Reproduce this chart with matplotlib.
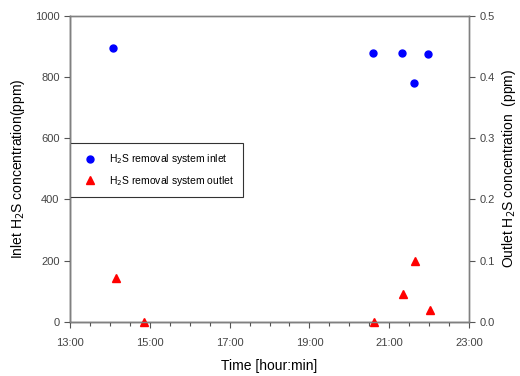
import matplotlib
matplotlib.use("Agg")
import matplotlib.pyplot as plt
from matplotlib.ticker import MultipleLocator, FuncFormatter

# ========================================
# DATA
# ========================================
inlet_times = ["14:04", "20:35", "21:19", "21:37", "21:59"]
inlet_ppm = [894, 878, 880, 782, 876]

outlet_times = ["14:09", "14:52", "20:37", "21:21", "21:38", "22:01"]
outlet_ppm = [0.072, 0.0, 0.0, 0.045, 0.099, 0.019]

x_ticks = ["13:00", "15:00", "17:00", "19:00", "21:00", "23:00"]


def to_hours(t):
    h, m = t.split(":")
    return int(h) + int(m) / 60.0


plt.rcParams['font.family'] = ['Liberation Sans', 'DejaVu Sans']

fig = plt.figure(figsize=(5.2, 3.76), dpi=100)
ax = fig.add_axes([0.1346, 0.1444, 0.7674, 0.813])
ax2 = ax.twinx()

l1, = ax.plot([to_hours(t) for t in inlet_times], inlet_ppm, 'o', color='#0000ff',
              markersize=5, linestyle='none', clip_on=False,
              label='H$_2$S removal system inlet')
l2, = ax2.plot([to_hours(t) for t in outlet_times], outlet_ppm, '^', color='#ff0000',
               markersize=5.5, linestyle='none', clip_on=False,
               label='H$_2$S removal system outlet')

xt = [to_hours(t) for t in x_ticks]
ax.set_xlim(xt[0], xt[-1])
ax.set_xticks(xt)
ax.set_xticklabels(x_ticks)
ax.xaxis.set_minor_locator(MultipleLocator(0.5))
ax.set_ylim(0, 1000)
ax.yaxis.set_major_locator(MultipleLocator(200))
ax2.set_ylim(0, 0.5)
ax2.yaxis.set_major_locator(MultipleLocator(0.1))
ax2.yaxis.set_major_formatter(FuncFormatter(lambda v, p: f"{v:.1f}"))

for a in (ax, ax2):
    a.tick_params(which='both', direction='out', labelsize=8, labelcolor='#444444',
                  color='#555555', width=0.8)
    a.tick_params(which='major', length=4)
    a.tick_params(which='minor', length=3)
    for s in a.spines.values():
        s.set_color('#808080')
        s.set_linewidth(1.0)
ax.spines['left'].set_color('#303030')
ax.spines['bottom'].set_color('#303030')
ax.tick_params(axis='x', pad=8)

ax.set_xlabel('Time [hour:min]', fontsize=10, labelpad=8)
ax.set_ylabel('Inlet H$_2$S concentration(ppm)', fontsize=10, labelpad=6)
ax2.set_ylabel('Outlet H$_2$S concentration  (ppm)', fontsize=10, labelpad=4)

leg = ax.legend(handles=[l1, l2], loc='upper left', bbox_to_anchor=(0.0, 0.585),
                fontsize=7.5, frameon=True, fancybox=False, borderpad=0.9,
                handletextpad=0.8, labelspacing=0.7, borderaxespad=0)
leg.get_frame().set_edgecolor('black')
leg.get_frame().set_linewidth(0.8)

fig.savefig('out.png', dpi=100)
